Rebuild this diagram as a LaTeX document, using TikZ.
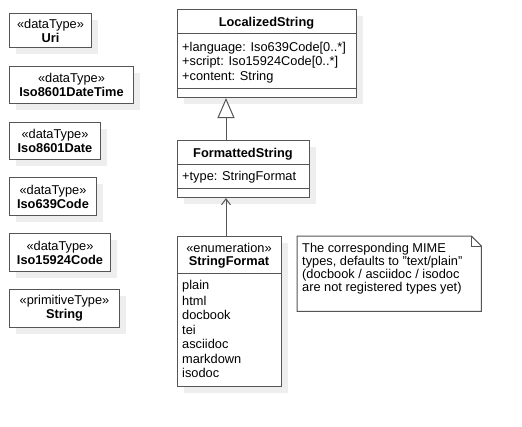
\documentclass[tikz,border=0pt]{standalone}
\usepackage{fontspec}
\setmainfont{Liberation Sans}
\usetikzlibrary{arrows.meta,shadows}
\definecolor{ln}{HTML}{555555}
\definecolor{sh}{HTML}{EEEEEE}
\tikzset{
  box/.style={draw=ln, line width=1pt, fill=white, anchor=north west, inner sep=0pt,
    general shadow={fill=sh, shadow xshift=6pt, shadow yshift=-6pt}},
  txt/.style={inner sep=0pt, font=\fontsize{12.8}{14}\selectfont},
  dtbox/.style={box, txt, align=center, minimum height=34pt},
  cline/.style={draw=ln, line width=1pt},
  conn/.style={draw=ln, line width=1pt},
}
\begin{document}
\begin{tikzpicture}[x=1pt,y=-1pt]
\useasboundingbox (0,0) rectangle (522,426);
% data types
\node[dtbox, minimum width=82pt] (uri) at (9,13) {«dataType»\\\textbf{Uri}};
\node[dtbox, minimum width=124pt, minimum height=37pt] (dt) at (9,66) {«dataType»\\\textbf{Iso8601DateTime}};
\node[dtbox, minimum width=91pt, minimum height=37pt] (date) at (9,122) {«dataType»\\\textbf{Iso8601Date}};
\node[dtbox, minimum width=87pt, minimum height=38pt] (i639) at (9,177) {«dataType»\\\textbf{Iso639Code}};
\node[dtbox, minimum width=101pt, minimum height=38pt] (i15924) at (9,233) {«dataType»\\\textbf{Iso15924Code}};
\node[dtbox, minimum width=110pt, minimum height=38pt] (str) at (9,289) {«primitiveType»\\\textbf{String}};
% LocalizedString
\node[box, minimum width=179pt, minimum height=88pt] (ls) at (177,9) {};
\node[txt] (lsn) at (266.5,23) {\textbf{LocalizedString}};
\draw[cline] (ls.west |- 0,33) -- (ls.east |- 0,33);
\node[txt, anchor=west] (lsa1) at (182,48) {+language: Iso639Code[0..*]};
\node[txt, anchor=west] (lsa2) at (182,62.5) {+script: Iso15924Code[0..*]};
\node[txt, anchor=west] (lsa3) at (182,77) {+content: String};
\draw[cline] (ls.west |- 0,88) -- (ls.east |- 0,88);
% FormattedString
\node[box, minimum width=132pt, minimum height=57pt] (fs) at (177,140) {};
\node[txt] (fsn) at (243,154) {\textbf{FormattedString}};
\draw[cline] (fs.west |- 0,164) -- (fs.east |- 0,164);
\node[txt, anchor=west] (fsa1) at (182,177) {+type: StringFormat};
\draw[cline] (fs.west |- 0,188) -- (fs.east |- 0,188);
% StringFormat
\node[box, minimum width=104pt, minimum height=150pt] (sf) at (177,236) {};
\node[txt] (sfs) at (229,248) {«enumeration»};
\node[txt] (sfn) at (229,262.5) {\textbf{StringFormat}};
\draw[cline] (sf.west |- 0,273) -- (sf.east |- 0,273);
\node[txt, anchor=west] (l1) at (182,286) {plain};
\node[txt, anchor=west] (l2) at (182,300.5) {html};
\node[txt, anchor=west] (l3) at (182,315) {docbook};
\node[txt, anchor=west] (l4) at (182,329.5) {tei};
\node[txt, anchor=west] (l5) at (182,344) {asciidoc};
\node[txt, anchor=west] (l6) at (182,358.5) {markdown};
\node[txt, anchor=west] (l7) at (182,373) {isodoc};
% note
\node[anchor=north west, inner sep=0pt, minimum width=184pt, minimum height=75pt] (note) at (297,236) {};
\draw[conn, fill=white] (note.north west) -- ([xshift=-10pt]note.north east) -- ([yshift=-10pt]note.north east) -- (note.south east) -- (note.south west) -- cycle;
\draw[conn] ([xshift=-10pt]note.north east) -- ([xshift=-10pt,yshift=-10pt]note.north east) -- ([yshift=-10pt]note.north east);
\node[txt, anchor=north west, align=left, font=\fontsize{12.8}{13}\selectfont] (notet) at (302,243) {The corresponding MIME\\types, defaults to {\char34}text/plain{\char34}\\(docbook / asciidoc / isodoc\\are not registered types yet)};
% connectors
\draw[conn, -{Triangle[open, length=20pt, width=17pt, fill=white]}] (fs.north -| 226,0) -- (ls.south -| 226,0);
\draw[conn, -{Straight Barb[length=6pt, width=9pt]}] (sf.north -| 226,0) -- (fs.south -| 226,0);
\end{tikzpicture}
\end{document}
